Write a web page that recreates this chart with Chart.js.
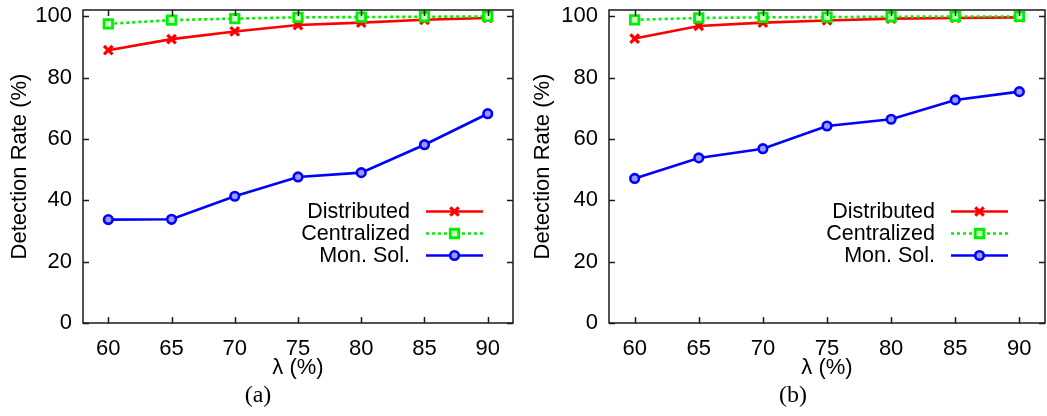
<!DOCTYPE html>
<html>
<head>
<meta charset="utf-8">
<script src="https://cdn.jsdelivr.net/npm/chart.js@4.4.0/dist/chart.umd.min.js"></script>
<style>
  html, body { margin: 0; padding: 0; background: #fff; }
  #wrap { position: relative; width: 1047px; height: 416px; overflow: hidden; }
  .panel { position: absolute; top: 0; }
  .cap {
    position: absolute; top: 380px;
    font-family: 'Liberation Serif', 'DejaVu Serif', serif;
    font-size: 24px; color: #000; line-height: 28px;
    transform: translateX(-50%);
  }
</style>
</head>
<body>
<div id="wrap">
  <canvas id="chartA" class="panel" style="left:0px" width="523" height="416"></canvas>
  <canvas id="chartB" class="panel" style="left:523px" width="524" height="416"></canvas>
  <div class="cap" style="left:258px">(a)</div>
  <div class="cap" style="left:793px">(b)</div>
</div>
<script>
// x values (lambda, %) and axis tick labels
const lambdaValues = [60, 65, 70, 75, 80, 85, 90];
const xTickValues = [60, 65, 70, 75, 80, 85, 90];
const yTickValues = [0, 20, 40, 60, 80, 100];
const seriesNames = ['Distributed', 'Centralized', 'Mon. Sol.'];

// panel (a)
const distributedA = [88.9, 92.5, 95.0, 97.1, 97.9, 98.8, 99.4];
const centralizedA = [97.5, 98.7, 99.2, 99.6, 99.7, 99.8, 99.9];
const monSolA      = [33.7, 33.8, 41.3, 47.6, 49.0, 58.1, 68.2];

// panel (b)
const distributedB = [92.7, 96.8, 97.9, 98.6, 99.2, 99.4, 99.6];
const centralizedB = [98.8, 99.4, 99.6, 99.7, 99.8, 99.9, 99.9];
const monSolB      = [47.1, 53.8, 56.8, 64.2, 66.4, 72.7, 75.4];

const FONT = "'Liberation Sans', Arial, Helvetica, sans-serif";

function makeDatasets(dist, cent, mon) {
  const pts = v => lambdaValues.map((x, i) => ({ x: x, y: v[i] }));
  return [
    {
      label: seriesNames[0], data: pts(dist), order: 2,
      borderColor: '#ff0000', backgroundColor: '#ff0000', borderWidth: 2.6,
      pointStyle: 'crossRot', pointRadius: 6, pointBorderWidth: 3.2,
      pointBorderColor: '#ff0000', tension: 0
    },
    {
      label: seriesNames[1], data: pts(cent), order: 1,
      borderColor: '#00f000', backgroundColor: '#ffffff', borderWidth: 2.6,
      borderDash: [3, 3],
      pointStyle: 'rect', pointRadius: 6, pointBorderWidth: 2.8,
      pointBorderColor: '#00f000', pointBackgroundColor: '#ccffcc', tension: 0
    },
    {
      label: seriesNames[2], data: pts(mon), order: 3,
      borderColor: '#0000ff', backgroundColor: '#ffffff', borderWidth: 2.6,
      pointStyle: 'circle', pointRadius: 4.3, pointBorderWidth: 2.6,
      pointBorderColor: '#0000ff', pointBackgroundColor: '#9a9aff', tension: 0
    }
  ];
}

// frame with inward ticks on all four sides
const framePlugin = {
  id: 'frame',
  afterDraw(chart) {
    const { ctx, chartArea: a, scales } = chart;
    const tl = 6;
    ctx.save();
    ctx.strokeStyle = '#1a1a1a';
    ctx.lineWidth = 1.5;
    ctx.beginPath();
    xTickValues.forEach(v => {
      const px = Math.round(scales.x.getPixelForValue(v)) + 0.5;
      ctx.moveTo(px, a.bottom); ctx.lineTo(px, a.bottom - tl);
      ctx.moveTo(px, a.top); ctx.lineTo(px, a.top + tl);
    });
    yTickValues.forEach(v => {
      const py = Math.round(scales.y.getPixelForValue(v)) + 0.5;
      ctx.moveTo(a.left, py); ctx.lineTo(a.left + tl, py);
      ctx.moveTo(a.right, py); ctx.lineTo(a.right - tl, py);
    });
    ctx.stroke();
    ctx.strokeRect(a.left, a.top, a.right - a.left, a.bottom - a.top);
    ctx.restore();
  }
};

// key drawn inside the plot, text right-aligned before a line sample
const keyPlugin = {
  id: 'key',
  afterDatasetsDraw(chart, args, opts) {
    const { ctx } = chart;
    ctx.save();
    ctx.font = '21.5px ' + FONT;
    ctx.textAlign = 'right';
    ctx.textBaseline = 'middle';
    chart.data.datasets.forEach((ds, i) => {
      const y = opts.rows[i];
      ctx.fillStyle = '#000';
      ctx.fillText(ds.label, opts.textRight, y + 1);
      ctx.strokeStyle = ds.borderColor;
      ctx.lineWidth = ds.borderWidth;
      ctx.setLineDash(ds.borderDash || []);
      ctx.beginPath();
      ctx.moveTo(opts.lineFrom, y); ctx.lineTo(opts.lineTo, y);
      ctx.stroke();
      ctx.setLineDash([]);
      ctx.fillStyle = ds.pointBackgroundColor || ds.borderColor;
      ctx.strokeStyle = ds.pointBorderColor;
      ctx.lineWidth = ds.pointBorderWidth;
      Chart.helpers.drawPoint(ctx, { pointStyle: ds.pointStyle, radius: ds.pointRadius, rotation: 0, borderWidth: ds.pointBorderWidth },
        (opts.lineFrom + opts.lineTo) / 2, y);
    });
    ctx.restore();
  }
};

function makeChart(id, datasets, axisWidth, padRight, key) {
  return new Chart(document.getElementById(id), {
    type: 'line',
    data: { datasets: datasets },
    plugins: [framePlugin, keyPlugin],
    options: {
      responsive: false,
      animation: false,
      events: [],
      layout: { autoPadding: false, padding: { top: 10, right: padRight, bottom: 0, left: 0 } },
      plugins: {
        legend: { display: false },
        tooltip: { enabled: false },
        key: key
      },
      scales: {
        x: {
          type: 'linear', min: 58, max: 92,
          afterBuildTicks: s => { s.ticks = xTickValues.map(v => ({ value: v })); },
          afterFit: s => { s.height = 93; s.paddingLeft = 0; s.paddingRight = 0; },
          grid: { display: false, drawTicks: false },
          border: { display: false },
          ticks: { color: '#000', font: { family: FONT, size: 22 }, padding: 13, maxRotation: 0, autoSkip: false },
          title: { display: true, text: 'λ (%)', color: '#000', font: { family: FONT, size: 22 }, padding: { top: 0, bottom: 35 } }
        },
        y: {
          type: 'linear', min: 0, max: 102,
          afterBuildTicks: s => { s.ticks = yTickValues.map(v => ({ value: v })); },
          afterFit: s => { s.width = axisWidth; s.paddingTop = 0; s.paddingBottom = 0; },
          grid: { display: false, drawTicks: false },
          border: { display: false },
          ticks: { color: '#000', font: { family: FONT, size: 22 }, padding: 11 },
          title: { display: true, text: 'Detection Rate (%)', color: '#000', font: { family: FONT, size: 22 }, padding: { top: 7, bottom: 0 } }
        }
      }
    }
  });
}

makeChart('chartA', makeDatasets(distributedA, centralizedA, monSolA), 83, 10,
  { rows: [211.5, 233.5, 255.5], textRight: 410, lineFrom: 426, lineTo: 483 });
makeChart('chartB', makeDatasets(distributedB, centralizedB, monSolB), 86, 2,
  { rows: [211.5, 233.5, 255.5], textRight: 412, lineFrom: 428, lineTo: 485 });
</script>
</body>
</html>
